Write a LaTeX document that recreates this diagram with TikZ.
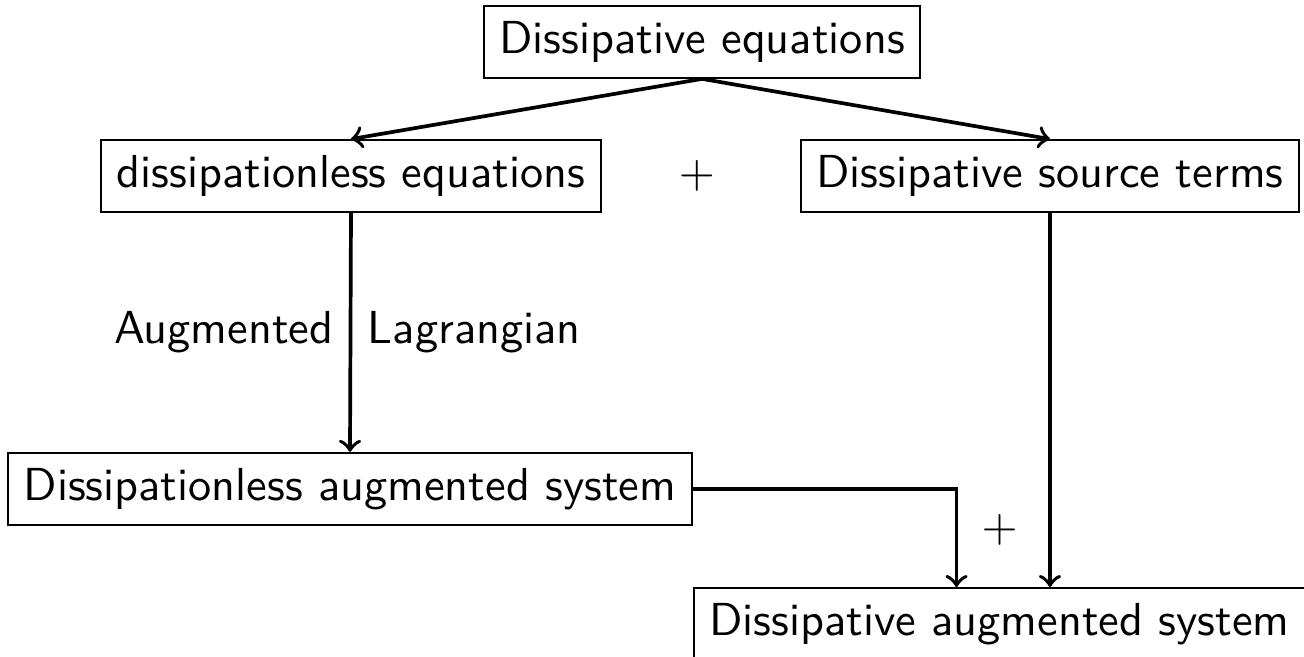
\documentclass[tikz,border=0pt]{standalone}
\usetikzlibrary{calc}
\begin{document}
\begin{tikzpicture}[x=0.216pt, y=-0.216pt, font=\sffamily,
  block/.style={draw, rectangle, inner sep=0.333em},
  link/.style={->, thick}]
\useasboundingbox (0,0) rectangle (1304,657);

% Top level
\node[block] (diss) at (702,42) {Dissipative equations};

% Splitting
\node[block] (nodiss) at (351,176) {dissipationless equations};
\node (plusA) at (697,176) {$+$};
\node[block] (source) at (1050,176) {Dissipative source terms};
\draw[link] (diss.south) -- (nodiss.north);
\draw[link] (diss.south) -- (source.north);

% Augmented Lagrangian
\node[block] (augnd) at (350,489) {Dissipationless augmented system};
\draw[link] (nodiss.south) -- (augnd.north)
  node[midway, left] {Augmented} node[midway, right] {Lagrangian};

% Recombination
\node[block, anchor=north west] (augd) at (693,587) {Dissipative augmented system};
\coordinate (joinL) at ($(augd.north)+(-43,0)$);
\node (plusB) at ($(augd.north)+(0,-57)$) {$+$};
\draw[link] (augnd.east) -| (joinL);
\draw[link] (source.south) -- (source.south |- augd.north);
\end{tikzpicture}
\end{document}
